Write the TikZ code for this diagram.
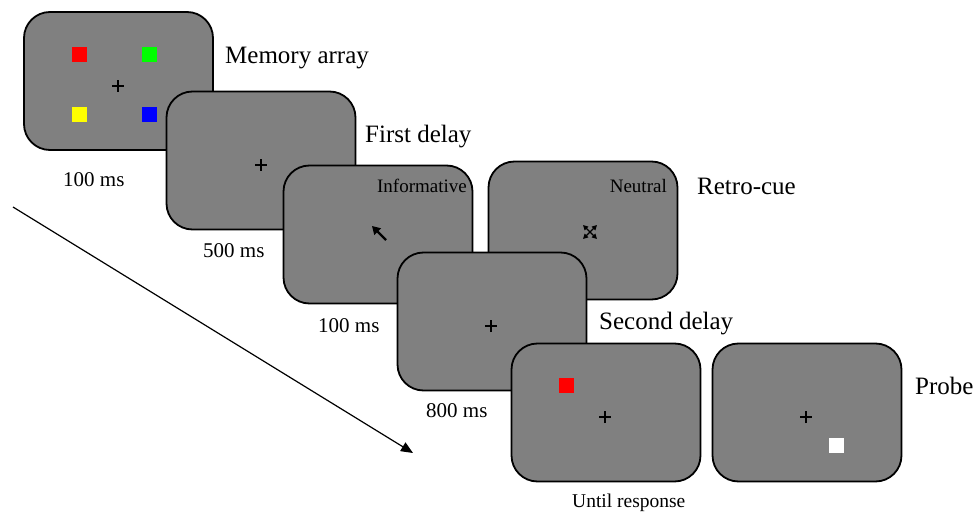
\documentclass[tikz,border=0pt]{standalone}
\usepackage{fontspec}
\setmainfont{Liberation Serif}
\usetikzlibrary{arrows.meta}
\definecolor{scrgray}{RGB}{128,128,128}
\definecolor{sqred}{RGB}{255,0,0}
\definecolor{sqgreen}{RGB}{0,255,0}
\definecolor{sqyellow}{RGB}{255,255,0}
\definecolor{sqblue}{RGB}{0,0,255}
\begin{document}
\begin{tikzpicture}[x=1pt,y=-1pt,
  screen/.style={draw=black, line width=1.8pt, fill=scrgray, rounded corners=26pt,
    minimum width=189pt, minimum height=138pt, inner sep=0pt},
  stim/.style={minimum size=15pt, inner sep=0pt},
  crossline/.style={line width=1.6pt, black},
  phase/.style={font=\fontsize{25}{28}\selectfont, inner sep=0pt, anchor=base west},
  dur/.style={font=\fontsize{21}{24}\selectfont, inner sep=0pt, anchor=base west},
  cuetype/.style={font=\fontsize{19}{22}\selectfont, inner sep=0pt, anchor=base east},
  timeline/.style={line width=1.2pt, -{Triangle[length=12pt,width=10pt]}},
  cornerarrow/.style={line width=1.3pt, {Triangle[length=5pt,width=5pt]}-{Triangle[length=5pt,width=5pt]}}]
\useasboundingbox (0,0) rectangle (974,513);

% screens, back to front
\node[screen] (mem) at (118.5,81) {};
\node[stim, fill=sqred] (s1) at (79,55) {};
\node[stim, fill=sqgreen] (s2) at (149,55) {};
\node[stim, fill=sqyellow] (s3) at (79,114.5) {};
\node[stim, fill=sqblue] (s4) at (149,114.5) {};
\coordinate (fixA) at (118,86);

\node[screen] (delay1) at (261,160.5) {};
\coordinate (fixB) at (261,165);

\node[screen] (info) at (378,234.5) {};
\node[cuetype] (infolab) at (467,193) {Informative};
\coordinate (cuetail) at (386,240);
\coordinate (cuehead) at (372,226);

\node[screen] (neutral) at (583,230.5) {};
\node[cuetype] (neutlab) at (667,193) {Neutral};
\coordinate (nc) at (590,232);

\node[screen] (delay2) at (492,321.5) {};
\coordinate (fixC) at (491,326);

\node[screen] (probe1) at (606,412.5) {};
\node[stim, fill=sqred] (pr) at (566,385.5) {};
\coordinate (fixD) at (605,417);

\node[screen] (probe2) at (807,412.5) {};
\node[stim, fill=white] (pw) at (836.5,445.5) {};
\coordinate (fixE) at (806,417);

% fixation crosses
\foreach \f in {fixA,fixB,fixC,fixD,fixE}{
  \draw[crossline] ([xshift=-6pt]\f) -- ([xshift=6pt]\f);
  \draw[crossline] ([yshift=-6pt]\f) -- ([yshift=6pt]\f);
}

% informative cue: arrow towards the upper-left item
\draw[line width=2.2pt, -{Triangle[length=8pt,width=9pt]}] (cuetail) -- (cuehead);

% neutral cue: arrows to all four corners
\draw[cornerarrow] ([xshift=-7pt,yshift=7pt]nc) -- ([xshift=7pt,yshift=-7pt]nc);
\draw[cornerarrow] ([xshift=7pt,yshift=7pt]nc) -- ([xshift=-7pt,yshift=-7pt]nc);

% phase names
\node[phase] (lmem) at (225,64) {Memory array};
\node[phase] (ldel1) at (365,143) {First delay};
\node[phase] (lcue) at (697,194) {Retro-cue};
\node[phase] (ldel2) at (599,329) {Second delay};
\node[phase] (lprobe) at (915,394) {Probe};

% durations
\node[dur] (t1) at (63,186) {100 ms};
\node[dur] (t2) at (203,257) {500 ms};
\node[dur] (t3) at (318,332) {100 ms};
\node[dur] (t4) at (426,417) {800 ms};
\node[dur, font=\fontsize{19.5}{22}\selectfont] (t5) at (572,507) {Until response};

% time axis
\coordinate (tstart) at (13,207);
\coordinate (tend) at (413,453);
\draw[timeline] (tstart) -- (tend);
\end{tikzpicture}
\end{document}
